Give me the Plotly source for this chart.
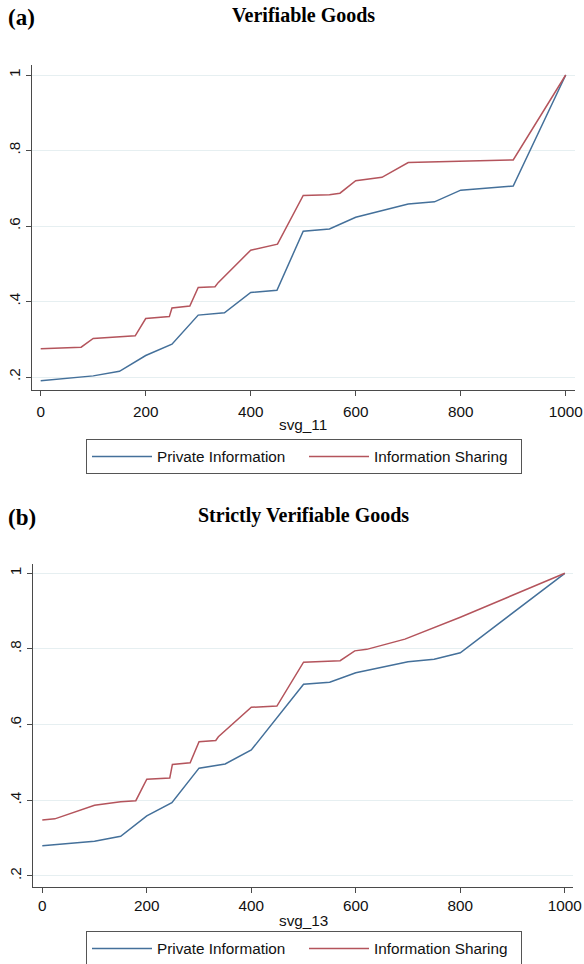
import plotly.graph_objects as go

# ---------------- data ----------------
# Panel (a): Verifiable Goods (svg_11)
a_private_x = [0, 100, 150, 200, 250, 300, 350, 400, 450, 500, 550, 600, 700, 750, 800, 900, 1000]
a_private_y = [0.190, 0.203, 0.215, 0.257, 0.287, 0.364, 0.370, 0.424, 0.430, 0.586, 0.592, 0.623,
               0.658, 0.664, 0.695, 0.706, 1.0]
a_sharing_x = [0, 77, 100, 180, 200, 245, 250, 284, 300, 332, 338, 400, 451, 500, 550, 570, 600,
               650, 700, 900, 1000]
a_sharing_y = [0.275, 0.279, 0.302, 0.309, 0.355, 0.360, 0.383, 0.388, 0.437, 0.439, 0.450, 0.536,
               0.552, 0.681, 0.683, 0.687, 0.720, 0.729, 0.768, 0.775, 1.0]

# Panel (b): Strictly Verifiable Goods (svg_13)
b_private_x = [0, 100, 150, 200, 248, 300, 350, 400, 500, 550, 600, 700, 750, 800, 1000]
b_private_y = [0.280, 0.292, 0.305, 0.359, 0.394, 0.485, 0.496, 0.533, 0.707, 0.712, 0.737, 0.766,
               0.773, 0.790, 1.0]
b_sharing_x = [0, 24, 100, 150, 179, 200, 244, 249, 283, 300, 332, 337, 400, 449, 500, 570, 598,
               621, 694, 800, 1000]
b_sharing_y = [0.348, 0.351, 0.387, 0.396, 0.399, 0.456, 0.459, 0.495, 0.499, 0.555, 0.558, 0.568,
               0.646, 0.649, 0.765, 0.769, 0.795, 0.799, 0.826, 0.884, 1.0]

y_tickvals = [0.2, 0.4, 0.6, 0.8, 1.0]
y_ticktext = [".2", ".4", ".6", ".8", "1"]
x_tickvals = [0, 200, 400, 600, 800, 1000]
x_ticktext = ["0", "200", "400", "600", "800", "1000"]

series_names = ["Private Information", "Information Sharing"]
panel_titles = ["Verifiable Goods", "Strictly Verifiable Goods"]
panel_labels = ["(a)", "(b)"]
x_titles = ["svg_11", "svg_13"]

# ---------------- styling ----------------
W, H = 584, 964
BLUE = "#44709a"
RED = "#b4545c"
GRID = "#e6eff1"
AXIS = "#4a4a4a"
SANS = "Liberation Sans, Arial, sans-serif"
SERIF = "Liberation Serif, Times New Roman, serif"
FS = 15.3


def px_x(p):
    return p / W


def px_y(p):
    return 1 - p / H


fig = go.Figure()

fig.add_trace(go.Scatter(x=a_private_x, y=a_private_y, mode="lines", name=series_names[0],
                         line=dict(color=BLUE, width=1.5), xaxis="x", yaxis="y", legend="legend"))
fig.add_trace(go.Scatter(x=a_sharing_x, y=a_sharing_y, mode="lines", name=series_names[1],
                         line=dict(color=RED, width=1.5), xaxis="x", yaxis="y", legend="legend"))
fig.add_trace(go.Scatter(x=b_private_x, y=b_private_y, mode="lines", name=series_names[0],
                         line=dict(color=BLUE, width=1.5), xaxis="x2", yaxis="y2", legend="legend2"))
fig.add_trace(go.Scatter(x=b_sharing_x, y=b_sharing_y, mode="lines", name=series_names[1],
                         line=dict(color=RED, width=1.5), xaxis="x2", yaxis="y2", legend="legend2"))

common_x = dict(tickvals=x_tickvals, ticktext=x_ticktext, showgrid=False, zeroline=False,
                showline=True, linecolor=AXIS, linewidth=1, ticks="outside", ticklen=5,
                tickcolor=AXIS, tickfont=dict(family=SANS, size=FS, color="#111"),
                automargin=False)
common_y = dict(tickvals=y_tickvals, ticktext=y_ticktext, showgrid=True, gridcolor=GRID,
                gridwidth=1, zeroline=False, showline=True, linecolor=AXIS, linewidth=1,
                ticks="outside", ticklen=5, tickcolor=AXIS, tickangle=-90, automargin=False,
                tickfont=dict(family=SANS, size=FS, color="#111"))

legend_common = dict(orientation="h", bgcolor="white", bordercolor="#555555", borderwidth=1,
                     font=dict(family=SANS, size=FS, color="#111"), xanchor="center",
                     yanchor="top", itemwidth=60, itemclick=False, entrywidth=142,
                     tracegroupgap=0)

fig.update_layout(
    template="none",
    width=W, height=H,
    margin=dict(l=0, r=0, t=0, b=0, autoexpand=False),
    paper_bgcolor="white", plot_bgcolor="white",
    xaxis=dict(domain=[px_x(32), px_x(575)], range=[-16.6, 1017.7], anchor="y",
               ticklabelstandoff=3, **common_x),
    yaxis=dict(domain=[px_y(390), px_y(65)], range=[0.1656, 1.0265], anchor="x", **common_y),
    xaxis2=dict(domain=[px_x(33.3), px_x(572.7)], range=[-17.2, 1015.1], anchor="y2",
                ticklabelstandoff=0, **common_x),
    yaxis2=dict(domain=[px_y(886.7), px_y(564)], range=[0.1717, 1.0246], anchor="x2", **common_y),
    legend=dict(x=px_x(304), y=px_y(439), **legend_common),
    legend2=dict(x=px_x(304), y=px_y(931), **legend_common),
    showlegend=True,
)

# axis titles
for t, yy in zip(x_titles, [424, 920]):
    fig.add_annotation(x=px_x(303), y=px_y(yy), xref="paper", yref="paper", text=t,
                       showarrow=False, xanchor="center", yanchor="middle",
                       font=dict(family=SANS, size=FS, color="#111"))

# panel labels and titles
for lab, title, ylab, ytit in zip(panel_labels, panel_titles, [17, 517], [15, 515]):
    fig.add_annotation(x=px_x(6), y=px_y(ylab), xref="paper", yref="paper", text="<b>" + lab + "</b>",
                       showarrow=False, xanchor="left", yanchor="middle",
                       font=dict(family=SERIF, size=23, color="#000"))
    fig.add_annotation(x=px_x(303), y=px_y(ytit), xref="paper", yref="paper",
                       text="<b>" + title + "</b>", showarrow=False, xanchor="center",
                       yanchor="middle", font=dict(family=SERIF, size=20, color="#000"))

fig.write_html("out.html", config={"displayModeBar": False},
               post_script="document.body.style.margin='0';document.body.style.overflow='hidden';")
